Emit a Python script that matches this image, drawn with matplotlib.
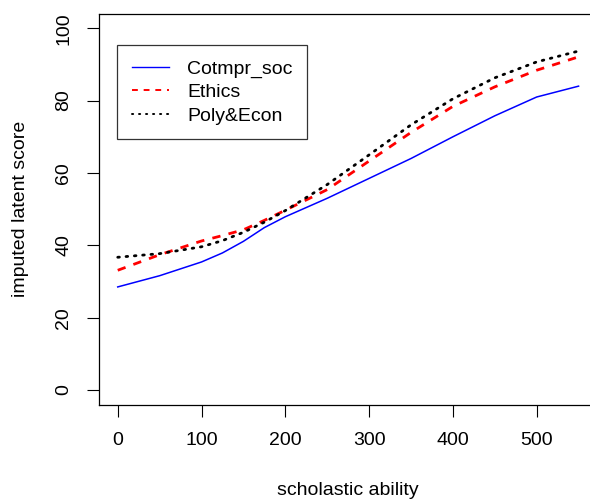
import numpy as np
import matplotlib.pyplot as plt
from matplotlib.lines import Line2D

plt.rcParams['font.family'] = ['Liberation Sans', 'DejaVu Sans']

ability = [0, 50, 100, 125, 150, 175, 200, 250, 300, 350, 400, 450, 500, 550]
cotmpr_soc = [28.5, 31.6, 35.4, 37.9, 41.1, 44.9, 47.9, 53.0, 58.5, 64.0, 70.0, 75.8, 81.0, 84.0]
ethics = [33.1, 37.4, 41.2, 42.7, 44.3, 46.9, 49.7, 55.4, 63.3, 71.2, 78.4, 83.8, 88.4, 92.1]
poly_econ = [36.7, 37.7, 39.6, 41.3, 43.6, 46.4, 49.6, 56.8, 65.0, 73.3, 80.5, 86.3, 90.7, 93.7]
xticks = [0, 100, 200, 300, 400, 500]
yticks = [0, 20, 40, 60, 80, 100]
labels = ['Cotmpr_soc', 'Ethics', 'Poly&Econ']


def main():
	fig = plt.figure(figsize=(5.9, 4.99), dpi=100)
	ax = fig.add_axes([99.3 / 590, 94.5 / 499, 497.7 / 590, 390.7 / 499])

	ax.plot(ability, cotmpr_soc, color='blue', lw=1.1)
	ax.plot(ability, ethics, color='red', lw=2.0, ls=(0, (3, 3)))
	ax.plot(ability, poly_econ, color='black', lw=2.0, ls=(0, (0.6, 2.4)),
			dash_capstyle='round')

	ax.set_xlim(-22, 572)
	ax.set_ylim(-4, 104)
	ax.set_xticks(xticks)
	ax.set_yticks(yticks)
	ax.set_yticklabels([str(v) for v in yticks], rotation=90, va='center')
	ax.tick_params(direction='out', length=8.5, width=0.8, labelsize=14, pad=11)
	ax.spines['right'].set_visible(False)
	for s in ax.spines.values():
		s.set_linewidth(0.9)

	ax.set_xlabel('scholastic ability', fontsize=14, labelpad=24)
	ax.set_ylabel('imputed latent score', fontsize=14, labelpad=19)

	# legend keys are drawn thinner than the curves, as in the original
	handles = [
		Line2D([], [], color='blue', lw=1.0),
		Line2D([], [], color='red', lw=1.4, ls=(0, (3, 3))),
		Line2D([], [], color='black', lw=1.4, ls=(0, (0.6, 3.0)), dash_capstyle='round'),
	]
	leg = ax.legend(handles, labels, loc='upper left', bbox_to_anchor=(0.0359, 0.919),
					fontsize=14, frameon=True, fancybox=False, edgecolor='black',
					handlelength=1.9, handletextpad=0.95, borderpad=0.75,
					labelspacing=0.3, borderaxespad=0)
	leg.get_frame().set_linewidth(0.9)

	fig.savefig('out.png', dpi=100)


if __name__ == '__main__':
	main()
